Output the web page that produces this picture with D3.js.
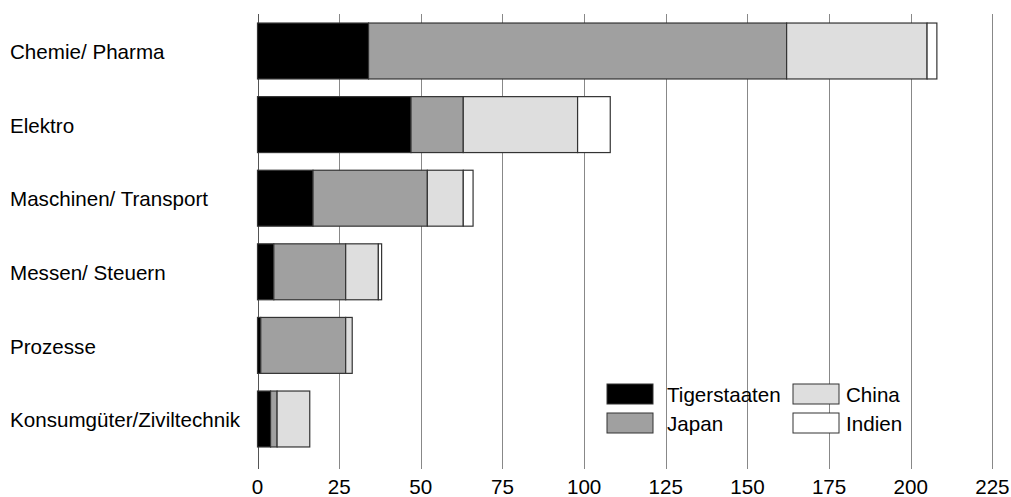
<!DOCTYPE html>
<html><head><meta charset="utf-8">
<script src="https://cdn.jsdelivr.net/npm/d3@7"></script>
<style>body{margin:0;background:#fff;} text{font-family:"Liberation Sans",Arial,sans-serif;}</style>
</head><body><svg id="c" width="1011" height="497"></svg>
<script>
const categories = ["Chemie/ Pharma","Elektro","Maschinen/ Transport","Messen/ Steuern","Prozesse","Konsumgüter/Ziviltechnik"];
const seriesNames = ["Tigerstaaten","Japan","China","Indien"];
const tigerstaaten = [34,47,17,5,1,4];
const japan = [128,16,35,22,26,2];
const china = [43,35,11,10,2,10];
const indien = [3,10,3,1,0,0];
const tickValues = [0,25,50,75,100,125,150,175,200,225];
const colors = ["#000000","#a0a0a0","#dedede","#ffffff"];

const seriesVals = [tigerstaaten, japan, china, indien];
const rows = categories.map((c,i)=>{const o={cat:c}; seriesNames.forEach((s,j)=>o[s]=seriesVals[j][i]); return o;});
const stack = d3.stack().keys(seriesNames)(rows);

const svg = d3.select("#c");
const x = d3.scaleLinear().domain([0,225]).range([257.5,992.4]);
const y = d3.scaleBand().domain(categories).range([14.2,455.8]).paddingInner(0.24).paddingOuter(0.12);
const gridTop = 14, gridBottom = 469;
const fs = 20.6;

// grid
svg.append("g").selectAll("line").data(tickValues).join("line")
  .attr("x1",d=>Math.round(x(d))+0.5).attr("x2",d=>Math.round(x(d))+0.5)
  .attr("y1",gridTop).attr("y2",gridBottom)
  .attr("stroke",d=>d===0?"#555":"#888").attr("stroke-width",1);

// tick labels
svg.append("g").selectAll("text").data(tickValues).join("text")
  .attr("x",d=>x(d)).attr("y",494).attr("text-anchor","middle")
  .attr("font-size",fs).attr("fill","#000").text(d=>d);

// bars
svg.append("g").selectAll("g").data(stack).join("g")
  .attr("fill",(d,i)=>colors[i])
  .selectAll("rect").data(d=>d.filter(p=>p[1]-p[0]>0)).join("rect")
  .attr("x",d=>x(d[0])).attr("width",d=>x(d[1])-x(d[0]))
  .attr("y",d=>y(d.data.cat)).attr("height",y.bandwidth())
  .attr("stroke","#333").attr("stroke-width",1.2);

// category labels
svg.append("g").selectAll("text").data(categories).join("text")
  .attr("x",10).attr("y",d=>y(d)+y.bandwidth()/2+1).attr("dy","0.35em")
  .attr("font-size",fs).attr("fill","#000").text(d=>d);

// legend
const legPos = [[607,384],[607,413],[793,384],[793,413]];
const lg = svg.append("g").selectAll("g").data(seriesNames).join("g")
  .attr("transform",(d,i)=>`translate(${legPos[i][0]},${legPos[i][1]})`);
lg.append("rect").attr("width",46).attr("height",20)
  .attr("fill",(d,i)=>colors[i]).attr("stroke","#333").attr("stroke-width",1);
lg.append("text").attr("x",(d,i)=>i<2?60:53).attr("y",11).attr("dy","0.35em")
  .attr("font-size",fs).attr("fill","#000").text(d=>d);
</script></body></html>
